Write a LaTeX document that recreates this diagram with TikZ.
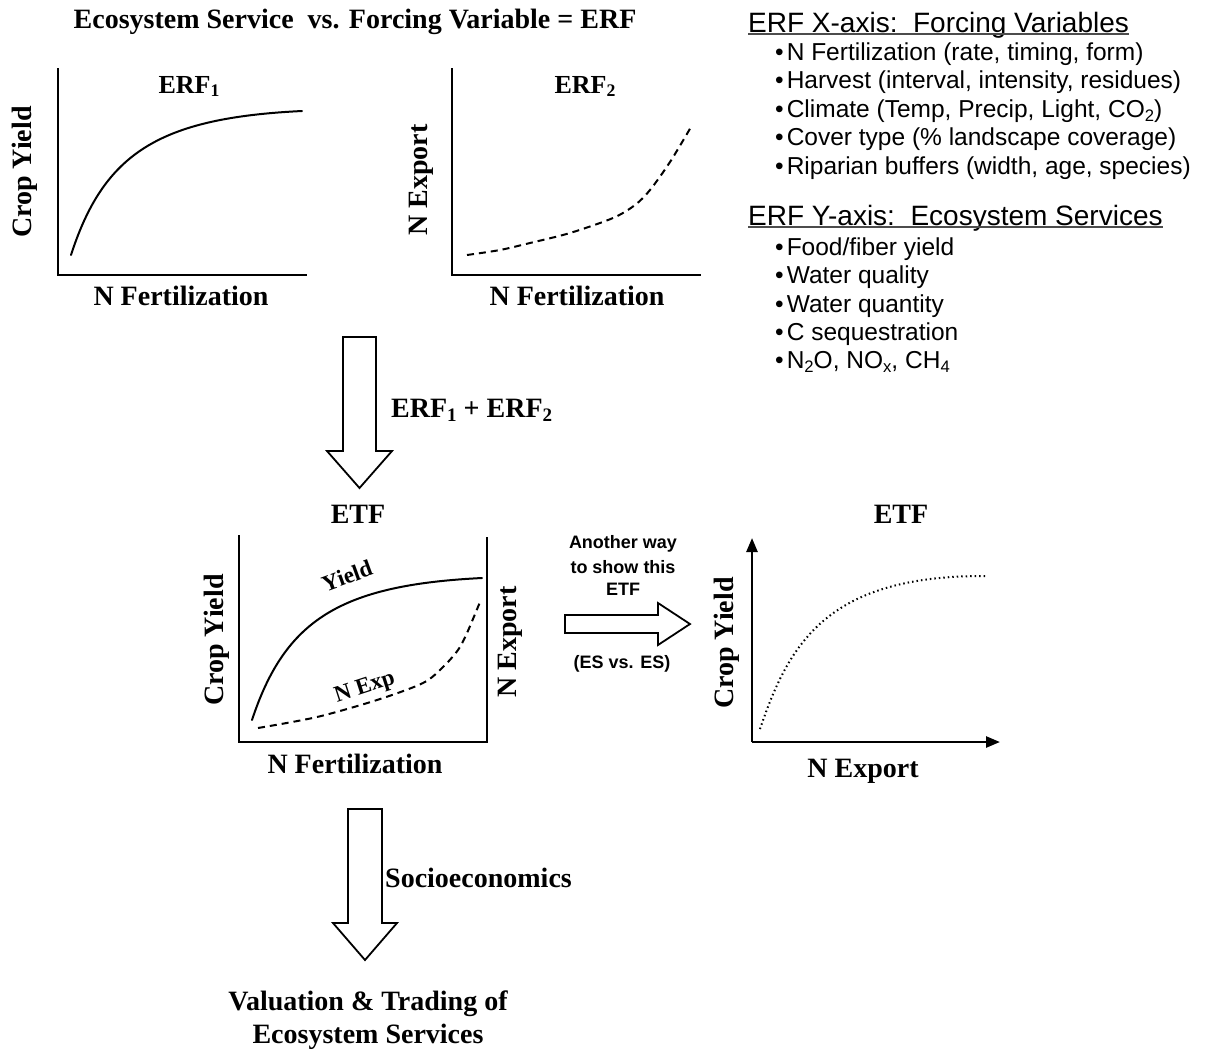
\documentclass[tikz,border=0pt]{standalone}
\usepackage{fontspec}
\setmainfont{Liberation Serif}
\newfontfamily\arialfont{Liberation Sans}
\usetikzlibrary{arrows.meta}
\newcommand{\dnsub}[1]{\raisebox{-0.32ex}{\scalebox{0.68}{#1}}}
\begin{document}
\begin{tikzpicture}[x=1pt,y=-1pt,
 lbl/.style={font=\fontsize{28}{32}\selectfont\bfseries, inner sep=0},
 sublbl/.style={font=\fontsize{26}{30}\selectfont\bfseries, inner sep=0},
 rlbl/.style={font=\fontsize{23}{26}\selectfont\bfseries, inner sep=0},
 bul/.style={font=\arialfont\fontsize{24.5}{28}\selectfont, anchor=base west, inner sep=0},
 head/.style={font=\arialfont\fontsize{28}{32}\selectfont, anchor=base west, inner sep=0},
 note/.style={font=\arialfont\fontsize{18}{22}\selectfont\bfseries, anchor=base, inner sep=0},
 axis/.style={line width=2.5pt},
 curve/.style={line width=2pt, line cap=round},
 dashcurve/.style={line width=2pt, dash pattern=on 7pt off 5pt},
 dotcurve/.style={line width=2pt, dash pattern=on 1.5pt off 3pt},
 blockarrow/.style={draw, line width=1.8pt, fill=white, line join=miter},
 tip/.style={-{Triangle[length=14pt,width=11pt]}}]
\useasboundingbox (0,0) rectangle (1214,1053);

% title
\node[lbl, anchor=base] (title) at (355,28) {Ecosystem Service\ \ vs. Forcing Variable = ERF};

% ERF1 plot
\draw[axis] (58,68) -- (58,275) -- (307,275);
\draw[curve] (71,255) .. controls (104,153) and (159,118) .. (302,111);
\node[sublbl, anchor=base] (erf1) at (189,93) {ERF\dnsub{1}};
\node[lbl, rotate=90] (cy1) at (25,172) {Crop Yield};
\node[lbl, anchor=base] (nf1) at (181,305) {N Fertilization};

% ERF2 plot
\draw[axis] (452,68) -- (452,275) -- (701,275);
\draw[dashcurve] plot[smooth] coordinates {(467,255) (500,250) (530,243) (570,233) (613,218) (635,205) (650,190) (670,162) (691,127)};
\node[sublbl, anchor=base] (erf2) at (585,93) {ERF\dnsub{2}};
\node[lbl, rotate=90] (ne2) at (421,180) {N Export};
\node[lbl, anchor=base] (nf2) at (577,305) {N Fertilization};

% arrow 1
\draw[blockarrow] (343,337) -- (376,337) -- (376,451) -- (392,451) -- (359.5,488) -- (327,451) -- (343,451) -- cycle;
\node[lbl, anchor=base west] (sum) at (391,417) {ERF\dnsub{1} + ERF\dnsub{2}};

% ETF plot
\node[lbl, anchor=base] (etf1) at (358,523) {ETF};
\draw[axis] (239,535) -- (239,742) -- (487,742) -- (487,537);
\draw[curve] (252,720) .. controls (285,620) and (340,585) .. (482,578);
\draw[dashcurve] plot[smooth] coordinates {(258,728) (317,717) (377,700) (423,683) (443,667) (458,650) (467,633) (480,602)};
\node[rlbl, rotate=20] (yl) at (347,576) {Yield};
\node[rlbl, rotate=18] (nexp) at (365,688) {N Exp};
\node[lbl, rotate=90] (cy3) at (217,640) {Crop Yield};
\node[lbl, rotate=90] (ne3) at (510,642) {N Export};
\node[lbl, anchor=base] (nf3) at (355,773) {N Fertilization};

% side arrow
\node[note] (n1) at (623,548) {Another way};
\node[note] (n2) at (623,573) {to show this};
\node[note] (n3) at (623,595) {ETF};
\draw[blockarrow] (565,615) -- (658,615) -- (658,603) -- (690,624) -- (658,645) -- (658,633) -- (565,633) -- cycle;
\node[note] (esv) at (622,668) {(ES vs. ES)};

% ES vs ES plot
\node[lbl, anchor=base] (etf2) at (901,523) {ETF};
\coordinate (o4) at (752,742);
\coordinate (yt4) at (752,538);
\coordinate (xt4) at (1000,742);
\draw[axis, tip] (o4) -- (yt4);
\draw[axis, tip] (o4) -- (xt4);
\draw[dotcurve] (760,729) .. controls (790,640) and (830,575) .. (987,576);
\node[lbl, rotate=90] (cy4) at (727,643) {Crop Yield};
\node[lbl, anchor=base] (ne4) at (863,777) {N Export};

% arrow 2
\draw[blockarrow] (348,809) -- (382,809) -- (382,923) -- (397,923) -- (365,960) -- (333,923) -- (348,923) -- cycle;
\node[lbl, anchor=base west] (socio) at (385,887) {Socioeconomics};
\node[lbl, anchor=base] (val1) at (368,1010) {Valuation \& Trading of};
\node[lbl, anchor=base] (val2) at (368,1043) {Ecosystem Services};

% lists
\node[head] (hx) at (748,32) {ERF X-axis:\ \ Forcing Variables};
\draw[line width=1.2pt, black!70] ([yshift=-2pt]hx.base west) -- ([yshift=-2pt]hx.base east);
\node[bul] (x1) at (775,60) {\textbullet\hspace{3pt}N Fertilization (rate, timing, form)};
\node[bul] (x2) at (775,88.5) {\textbullet\hspace{3pt}Harvest (interval, intensity, residues)};
\node[bul] (x3) at (775,117) {\textbullet\hspace{3pt}Climate (Temp, Precip, Light, CO\dnsub{2})};
\node[bul] (x4) at (775,145.5) {\textbullet\hspace{3pt}Cover type (\% landscape coverage)};
\node[bul] (x5) at (775,174) {\textbullet\hspace{3pt}Riparian buffers (width, age, species)};

\node[head] (hy) at (748,225) {ERF Y-axis:\ \ Ecosystem Services};
\draw[line width=1.2pt, black!70] ([yshift=-2pt]hy.base west) -- ([yshift=-2pt]hy.base east);
\node[bul] (y1) at (775,255) {\textbullet\hspace{3pt}Food/fiber yield};
\node[bul] (y2) at (775,283) {\textbullet\hspace{3pt}Water quality};
\node[bul] (y3) at (775,312) {\textbullet\hspace{3pt}Water quantity};
\node[bul] (y4) at (775,340) {\textbullet\hspace{3pt}C sequestration};
\node[bul] (y5) at (775,368) {\textbullet\hspace{3pt}N\dnsub{2}O, NO\dnsub{x}, CH\dnsub{4}};
\end{tikzpicture}
\end{document}
